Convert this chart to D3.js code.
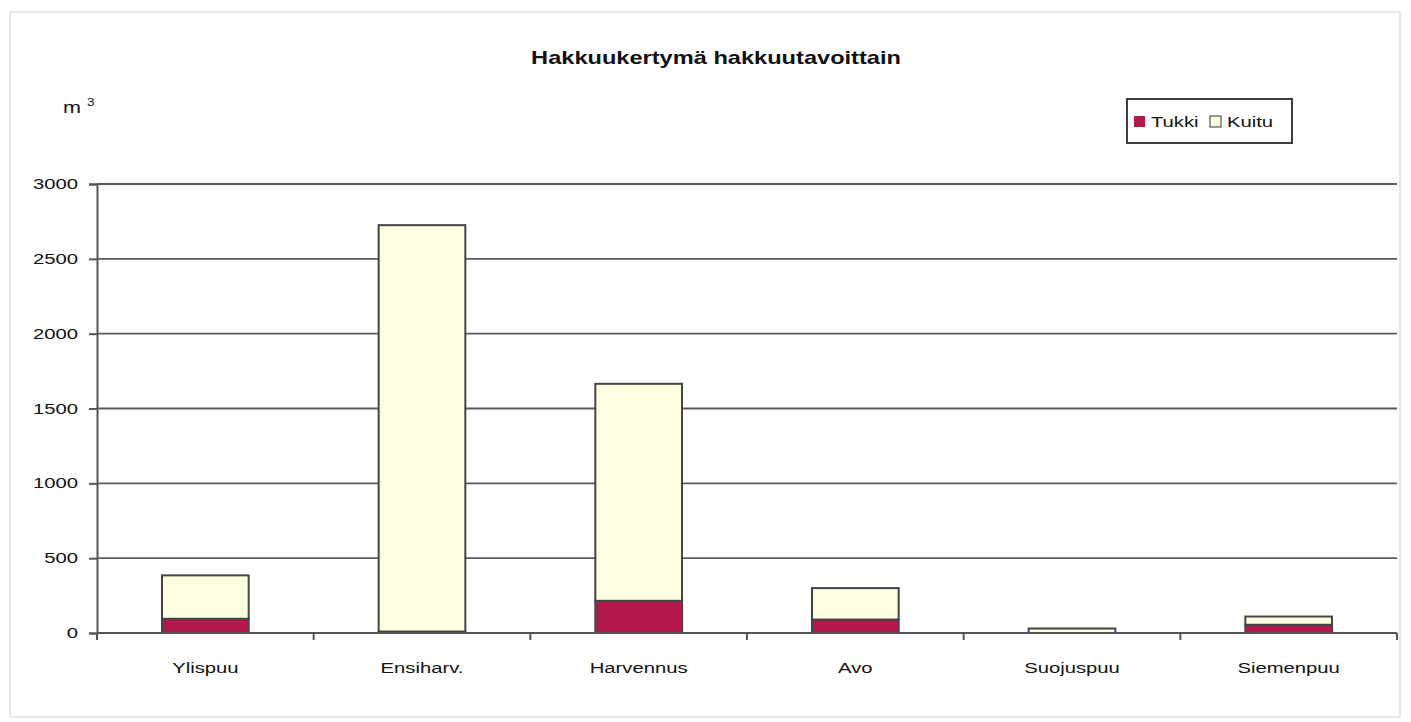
<!DOCTYPE html>
<html>
<head>
<meta charset="utf-8">
<script src="https://cdn.jsdelivr.net/npm/d3@7"></script>
<style>
  body { margin: 0; background: #fff; }
  text { font-family: "Liberation Sans", Arial, sans-serif; fill: #111; }
</style>
</head>
<body>
<svg width="1411" height="722"></svg>
<script>
const categories = ["Ylispuu", "Ensiharv.", "Harvennus", "Avo", "Suojuspuu", "Siemenpuu"];
const tukki = [95, 10, 215, 90, 0, 55];
const kuitu = [290, 2715, 1450, 210, 30, 55];
const yTicks = [0, 500, 1000, 1500, 2000, 2500, 3000];
const seriesNames = ["Tukki", "Kuitu"];
const seriesColors = ["#b5184f", "#ffffe2"];

const svg = d3.select("svg");
const sx = 1.35; // scanned chart is stretched sideways

// text drawn with the same horizontal stretch as the source image
function label(parent, x, y, str, size, anchor, weight) {
  return parent.append("g")
    .attr("transform", `translate(${x},${y}) scale(${sx},1)`)
    .append("text")
    .attr("text-anchor", anchor || "start")
    .style("font-size", size + "px")
    .style("font-weight", weight || "normal")
    .text(str);
}

// outer frame
svg.append("rect")
  .attr("x", 10).attr("y", 12)
  .attr("width", 1390).attr("height", 705)
  .attr("fill", "none").attr("stroke", "#e2e2e2").attr("stroke-width", 1.5);

const x = d3.scaleBand().domain(categories).range([97, 1397])
  .paddingInner(0.6).paddingOuter(0.3);
const y = d3.scaleLinear().domain([0, 3000]).range([633, 184]);

// gridlines + y axis
const yAxis = svg.append("g").attr("transform", "translate(97,0)")
  .call(d3.axisLeft(y).tickValues(yTicks).tickSize(8).tickFormat(""));
yAxis.select(".domain").attr("stroke", "#555").attr("stroke-width", 2);
yAxis.selectAll(".tick line").attr("stroke", "#555").attr("stroke-width", 2);

svg.append("g").selectAll("line").data(yTicks.filter(d => d > 0)).join("line")
  .attr("x1", 97).attr("x2", 1397)
  .attr("y1", d => y(d)).attr("y2", d => y(d))
  .attr("stroke", "#5a5a5a").attr("stroke-width", 1.8);

yTicks.forEach(t => label(svg, 78, y(t) + 5, t, 15, "end"));

// stacked bars
const rows = categories.map((c, i) => ({cat: c, Tukki: tukki[i], Kuitu: kuitu[i]}));
const stacked = d3.stack().keys(seriesNames)(rows);

svg.append("g").selectAll("g").data(stacked).join("g")
  .attr("fill", (d, i) => seriesColors[i])
  .selectAll("rect").data(d => d).join("rect")
  .attr("x", d => x(d.data.cat))
  .attr("y", d => y(d[1]))
  .attr("width", x.bandwidth())
  .attr("height", d => y(d[0]) - y(d[1]))
  .attr("stroke", "#444").attr("stroke-width", 2);

// x axis
const xAxis = svg.append("g").attr("transform", "translate(0,633)");
xAxis.append("line").attr("x1", 97).attr("x2", 1397)
  .attr("stroke", "#555").attr("stroke-width", 2);
const step = x.step();
d3.range(categories.length + 1).forEach(i => {
  const xp = 97 + i * step;
  xAxis.append("line").attr("x1", xp).attr("x2", xp).attr("y1", 0).attr("y2", 7)
    .attr("stroke", "#555").attr("stroke-width", 2);
});
categories.forEach(c => label(svg, x(c) + x.bandwidth() / 2, 673, c, 15, "middle"));

// title and unit
label(svg, 716, 64, "Hakkuukertymä hakkuutavoittain", 17.5, "middle", "bold");
label(svg, 63, 113, "m", 16, "start");
label(svg, 87, 106, "3", 10, "start");

// legend
const lg = svg.append("g");
lg.append("rect").attr("x", 1127).attr("y", 99).attr("width", 165).attr("height", 44)
  .attr("fill", "#fff").attr("stroke", "#3e3e3e").attr("stroke-width", 2);
const lgX = [1134, 1210];
seriesNames.forEach((s, i) => {
  lg.append("rect").attr("x", lgX[i]).attr("y", 116).attr("width", 11).attr("height", 11)
    .attr("fill", seriesColors[i]).attr("stroke", i ? "#333" : "none").attr("stroke-width", 1);
  label(lg, lgX[i] + 17, 127, s, 15, "start");
});
</script>
</body>
</html>
